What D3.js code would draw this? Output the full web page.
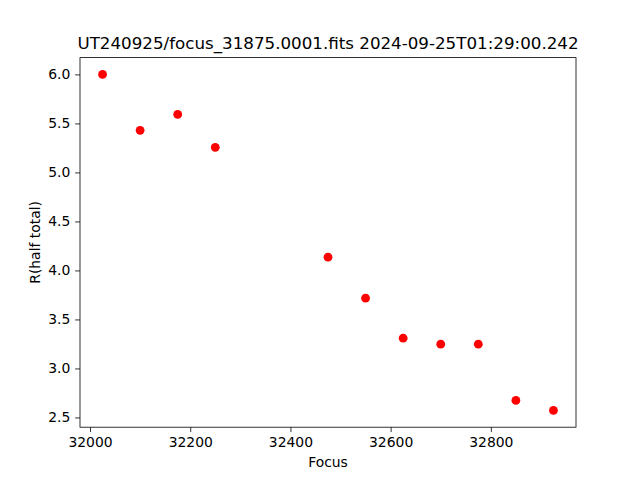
<!DOCTYPE html>
<html><head><meta charset="utf-8">
<script src="https://cdn.jsdelivr.net/npm/d3@7"></script>
<style>body{margin:0;background:#fff}svg{display:block}text{font-family:"DejaVu Sans",sans-serif;fill:#000}</style>
</head><body>
<script>
const focusValues = [32025, 32100, 32175, 32250, 32475, 32550, 32625, 32700, 32775, 32850, 32925];
const rHalfTotal = [6.0, 5.429, 5.592, 5.256, 4.135, 3.717, 3.309, 3.248, 3.248, 2.674, 2.572];
const xTicks = [32000, 32200, 32400, 32600, 32800];
const yTicks = [2.5, 3.0, 3.5, 4.0, 4.5, 5.0, 5.5, 6.0];
const titleText = "UT240925/focus_31875.0001.fits 2024-09-25T01:29:00.242";
const xLabel = "Focus", yLabel = "R(half total)";

const W = 640, H = 480;
const L = 80, R = 576, T = 57.6, B = 427.2;
const svg = d3.select("body").append("svg").attr("width", W).attr("height", H);

const xmin = d3.min(focusValues), xmax = d3.max(focusValues);
const ymin = d3.min(rHalfTotal), ymax = d3.max(rHalfTotal);
const xm = (xmax - xmin) * 0.05, ym = (ymax - ymin) * 0.05;
const x = d3.scaleLinear().domain([xmin - xm, xmax + xm]).range([L, R]);
const y = d3.scaleLinear().domain([ymin - ym, ymax + ym]).range([B, T]);

const xAxis = svg.append("g").attr("transform", `translate(0,${B})`)
  .call(d3.axisBottom(x).tickValues(xTicks).tickFormat(d3.format("d")).tickSize(4.86).tickPadding(4.86));
const yAxis = svg.append("g").attr("transform", `translate(${L},0)`)
  .call(d3.axisLeft(y).tickValues(yTicks).tickFormat(d3.format(".1f")).tickSize(4.86).tickPadding(4.86));
[xAxis, yAxis].forEach(g => {
  g.select(".domain").remove();
  g.selectAll("line").attr("stroke", "#000").attr("stroke-width", 0.8);
  g.selectAll("text").attr("font-size", "13.9px").attr("font-family", "DejaVu Sans").attr("fill", "#000");
});

svg.append("rect").attr("x", L).attr("y", T).attr("width", R - L).attr("height", B - T)
  .attr("fill", "none").attr("stroke", "#000").attr("stroke-width", 0.8);

svg.append("g").selectAll("circle").data(focusValues).join("circle")
  .attr("cx", d => x(d)).attr("cy", (d, i) => y(rHalfTotal[i])).attr("r", 4.4).attr("fill", "#ff0000");

svg.append("text").attr("x", (L + R) / 2).attr("y", T - 8.3).attr("text-anchor", "middle")
  .attr("font-size", "16.7px").text(titleText);
svg.append("text").attr("x", (L + R) / 2).attr("y", 467).attr("text-anchor", "middle")
  .attr("font-size", "13.9px").text(xLabel);
svg.append("text").attr("transform", `translate(39.5,${(T + B) / 2}) rotate(-90)`).attr("text-anchor", "middle")
  .attr("font-size", "13.9px").text(yLabel);
</script>
</body></html>
